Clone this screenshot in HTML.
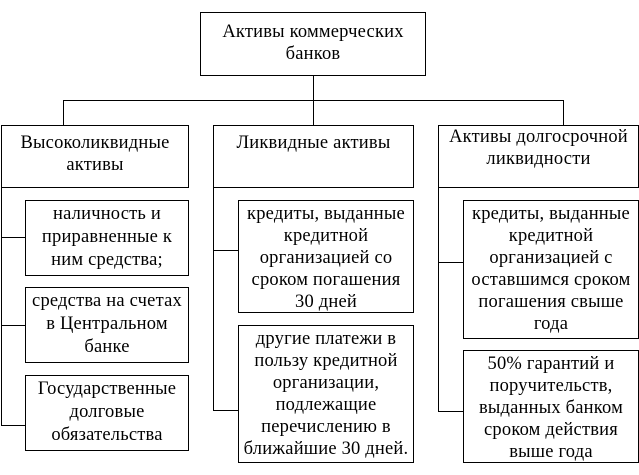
<!DOCTYPE html>
<html><head><meta charset="utf-8"><style>
html,body{margin:0;padding:0;background:#fff;}
body{width:639px;height:475px;position:relative;overflow:hidden;font-family:"Liberation Serif",serif;color:#000;}
.b{position:absolute;box-sizing:border-box;border:1px solid #000;background:#fff;text-align:center;font-size:18.5px;letter-spacing:0.2px;line-height:22px;padding-top:2px;white-space:nowrap;}
.l{position:absolute;background:#000;}
</style></head><body>
<div class="l" style="left:313px;top:75px;width:1px;height:50px"></div>
<div class="l" style="left:63px;top:100px;width:501px;height:1px"></div>
<div class="l" style="left:63px;top:100px;width:1px;height:25px"></div>
<div class="l" style="left:563px;top:100px;width:1px;height:25px"></div>

<div class="l" style="left:1px;top:187px;width:1px;height:239px"></div>
<div class="l" style="left:1px;top:237px;width:24px;height:1px"></div>
<div class="l" style="left:1px;top:325px;width:24px;height:1px"></div>
<div class="l" style="left:1px;top:425px;width:24px;height:1px"></div>

<div class="l" style="left:213px;top:187px;width:1px;height:224px"></div>
<div class="l" style="left:213px;top:250px;width:25px;height:1px"></div>
<div class="l" style="left:213px;top:410px;width:25px;height:1px"></div>

<div class="l" style="left:438px;top:187px;width:1px;height:225px"></div>
<div class="l" style="left:438px;top:262px;width:25px;height:1px"></div>
<div class="l" style="left:438px;top:411px;width:25px;height:1px"></div>

<div class="b" style="left:200px;top:12px;width:226px;height:64px;padding-top:8px">Активы коммерческих<br>банков</div>
<div class="b" style="left:1px;top:125px;width:188px;height:63px;padding-top:6px">Высоколиквидные<br>активы</div>
<div class="b" style="left:213px;top:125px;width:201px;height:63px;padding-top:6px">Ликвидные активы</div>
<div class="b" style="left:438px;top:125px;width:201px;height:63px;padding-top:0px">Активы долгосрочной<br>ликвидности</div>

<div class="b" style="left:25px;top:200px;width:164px;height:76px;line-height:23px">наличность и<br>приравненные к<br>ним средства;</div>
<div class="b" style="left:25px;top:287px;width:164px;height:76px;line-height:23px">средства на счетах<br>в Центральном<br>банке</div>
<div class="b" style="left:25px;top:375px;width:164px;height:76px;line-height:23px">Государственные<br>долговые<br>обязательства</div>

<div class="b" style="left:238px;top:200px;width:176px;height:113px">кредиты, выданные<br>кредитной<br>организацией со<br>сроком погашения<br>30 дней</div>
<div class="b" style="left:238px;top:325px;width:176px;height:138px">другие платежи в<br>пользу кредитной<br>организации,<br>подлежащие<br>перечислению в<br>ближайшие 30 дней.</div>

<div class="b" style="left:463px;top:200px;width:176px;height:139px">кредиты, выданные<br>кредитной<br>организацией с<br>оставшимся сроком<br>погашения свыше<br>года</div>
<div class="b" style="left:463px;top:350px;width:176px;height:113px">50% гарантий и<br>поручительств,<br>выданных банком<br>сроком действия<br>выше года</div>
</body></html>
